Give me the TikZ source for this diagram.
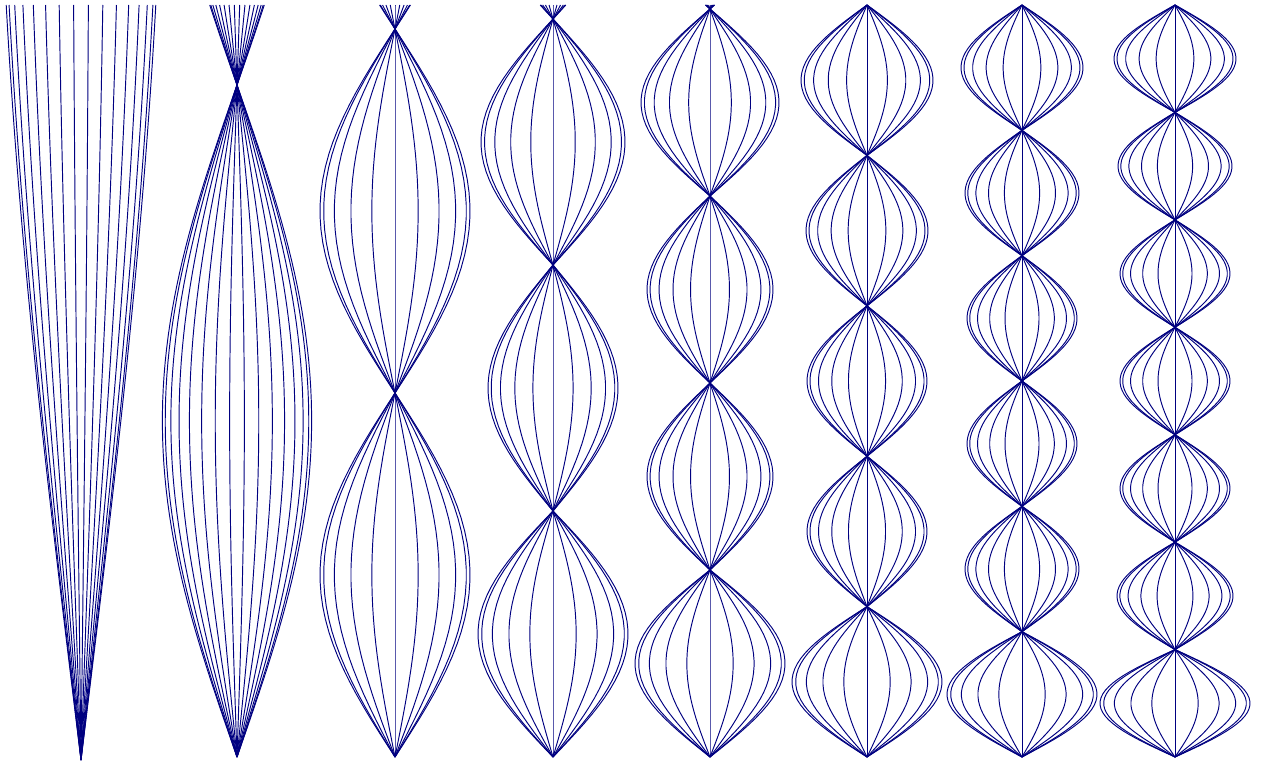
\documentclass[tikz,border=0pt]{standalone}
\usepackage{tikz}
\definecolor{modeblue}{RGB}{0,0,128}
\tikzset{
  modeline/.style={draw=modeblue, line width=0.95pt, line join=round},
}
\begin{document}
\begin{tikzpicture}[x=1pt, y=-1pt]
\useasboundingbox (0,0) rectangle (1266,765);

% column 1: almost straight wedge
\foreach \j in {0,...,15} {
  \pgfmathsetmacro{\cf}{cos((2*\j+1)*180/32)}
  \draw[modeline] plot[domain=0:755, samples=30]
    ({81+75*\cf*sin(\x*0.083777)/sin(63)}, {760-\x});
}

% column 2: one node near the top
\foreach \j in {0,...,15} {
  \pgfmathsetmacro{\cf}{cos((2*\j+1)*180/32)}
  \draw[modeline] plot[domain=0:752, samples=60]
    ({237+75*\cf*sin(\x*0.267857)}, {757-\x});
}

% columns 3 to 8: centre / half period / lobe widths from the bottom up
\foreach \xc/\hp/\amps in {395/364/{75,75,75},
                           553/246/{75,65,72,72},
                           710/187/{75,63,63,69,69},
                           867/150.4/{75,60,60,61,66},
                           1022/125.333/{75,57,55,55,57,61},
                           1175/107.4286/{75,58,55,55,55,57,61}} {
  \pgfmathsetmacro{\kk}{180/\hp}
  \foreach \A [count=\i] in \amps {
    \pgfmathsetmacro{\ta}{(\i-1)*\hp}
    \pgfmathsetmacro{\tb}{min(\i*\hp,752)}
    \foreach \j in {0,...,10} {
      \pgfmathsetmacro{\cf}{cos(\j*18)}
      \draw[modeline] plot[domain=\ta:\tb, samples=30]
        ({\xc+\A*\cf*sin(\x*\kk)}, {757-\x});
    }
  }
}
\end{tikzpicture}
\end{document}
